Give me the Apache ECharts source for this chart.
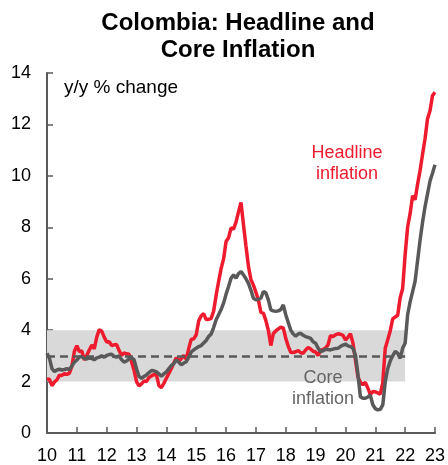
<!DOCTYPE html>
<html>
<head>
<meta charset="utf-8">
<script src="https://cdn.jsdelivr.net/npm/echarts@6/dist/echarts.min.js"></script>
<style>
    html, body { margin: 0; padding: 0; background: #fff; }
    #chart { width: 448px; height: 465px; }
</style>
</head>
<body>
<div id="chart"></div>
<script>
(function () {

    'use strict';

    // year labels on the x axis (2010 .. 2023)
    var years = ['10', '11', '12', '13', '14', '15', '16', '17', '18', '19', '20', '21', '22', '23'];

    // headline CPI, y/y %, monthly Jan 2010 .. Jan 2023
    var headline = [
        2.10, 2.09, 1.84, 1.98, 2.07, 2.25, 2.24, 2.31, 2.28, 2.33, 2.59, 3.17,
        3.40, 3.17, 3.19, 2.84, 3.02, 3.23, 3.42, 3.27, 3.73, 4.02, 3.96, 3.73,
        3.54, 3.55, 3.40, 3.43, 3.44, 3.20, 3.03, 3.11, 3.08, 3.06, 2.77, 2.44,
        2.00, 1.83, 1.91, 2.02, 2.00, 2.16, 2.22, 2.27, 2.27, 1.84, 1.76, 1.94,
        2.13, 2.32, 2.51, 2.72, 2.93, 2.79, 2.89, 3.02, 2.86, 3.29, 3.65, 3.66,
        3.82, 4.36, 4.56, 4.64, 4.41, 4.42, 4.46, 4.74, 5.35, 5.89, 6.39, 6.77,
        7.45, 7.59, 7.98, 7.93, 8.20, 8.60, 8.97, 8.10, 7.27, 6.48, 5.96, 5.75,
        5.47, 5.18, 4.69, 4.66, 4.37, 3.99, 3.40, 3.87, 3.97, 4.05, 4.12, 4.09,
        3.68, 3.37, 3.14, 3.13, 3.16, 3.20, 3.12, 3.10, 3.23, 3.33, 3.27, 3.18,
        3.15, 3.01, 3.21, 3.25, 3.31, 3.43, 3.79, 3.75, 3.82, 3.86, 3.84, 3.80,
        3.62, 3.72, 3.86, 3.51, 2.85, 2.19, 1.97, 1.88, 1.97, 1.75, 1.49, 1.61,
        1.60, 1.56, 1.51, 1.95, 3.30, 3.63, 3.97, 4.44, 4.51, 4.58, 5.26, 5.62,
        6.94, 8.01, 8.53, 9.23, 9.07, 9.67, 10.21, 10.84, 11.44, 12.22, 12.53, 13.12,
        13.25
    ];

    // core CPI, y/y %, monthly Jan 2010 .. Jan 2023
    var core = [
        3.10, 2.90, 2.50, 2.39, 2.45, 2.48, 2.45, 2.47, 2.50, 2.47, 2.60, 2.75,
        2.84, 2.95, 2.97, 2.90, 2.88, 2.92, 2.90, 2.85, 2.92, 2.95, 3.00, 2.95,
        3.02, 3.05, 3.06, 2.98, 2.95, 3.00, 2.85, 2.76, 2.80, 2.88, 2.92, 2.85,
        2.50, 2.20, 2.13, 2.20, 2.26, 2.35, 2.43, 2.42, 2.38, 2.30, 2.21, 2.30,
        2.38, 2.50, 2.62, 2.70, 2.84, 2.75, 2.65, 2.72, 2.77, 2.95, 3.15, 3.23,
        3.30, 3.36, 3.40, 3.50, 3.60, 3.75, 3.85, 4.10, 4.40, 4.60, 4.80, 5.05,
        5.40, 5.70, 6.02, 6.15, 6.02, 6.20, 6.28, 6.15, 6.00, 5.82, 5.55, 5.24,
        5.18, 5.20, 5.24, 5.50, 5.45, 5.18, 4.79, 4.75, 4.73, 4.75, 4.80, 4.98,
        4.60, 4.30, 4.00, 3.85, 3.77, 3.85, 3.88, 3.80, 3.75, 3.72, 3.68, 3.55,
        3.49, 3.30, 3.17, 3.20, 3.26, 3.25, 3.23, 3.26, 3.29, 3.30, 3.36, 3.42,
        3.46, 3.39, 3.36, 3.30, 3.04, 2.30, 1.41, 1.35, 1.35, 1.40, 1.47, 1.10,
        0.95, 0.90, 0.92, 1.09, 2.00, 2.50, 2.80, 3.00, 3.17, 3.10, 2.90, 3.30,
        3.49, 4.60, 5.10, 5.50, 5.90, 6.70, 7.50, 8.20, 8.80, 9.30, 9.80, 10.10,
        10.43
    ];

    // inflation target (3% +/- 1pp), shown until 2022
    var targetMid = 3;
    var targetBand = [2, 4];
    var targetEnd = '2022-01';

    var months = [];
    for (var i = 0; i < headline.length; i++) {
        var y = 2010 + Math.floor(i / 12);
        var m = (i % 12) + 1;
        months.push(y + '-' + (m < 10 ? '0' + m : m));
    }

    var RED = '#EE1B2E';
    var GREY = '#595959';
    var FONT = 'Liberation Sans, Arial, sans-serif';

    var chart = echarts.init(document.getElementById('chart'));

    var option = {
        animation: false,
        backgroundColor: '#fff',
        title: {
            text: 'Colombia: Headline and\nCore Inflation',
            left: 233,
            top: 5,
            textAlign: 'center',
            textStyle: {
                fontFamily: FONT,
                fontSize: 24,
                fontWeight: 'bold',
                color: '#000',
                lineHeight: 27
            }
        },
        grid: {
            left: 47,
            right: 11,
            top: 73,
            bottom: 32
        },
        xAxis: {
            type: 'category',
            data: months,
            boundaryGap: false,
            axisLine: { lineStyle: { color: GREY, width: 2 } },
            axisTick: {
                inside: true,
                length: 6,
                interval: function (idx) { return idx % 12 === 0; },
                lineStyle: { color: GREY, width: 1.5 }
            },
            axisLabel: {
                interval: function (idx) { return idx % 12 === 0; },
                formatter: function (v) { return years[parseInt(v.slice(0, 4), 10) - 2010]; },
                fontFamily: FONT,
                fontSize: 18,
                color: '#000',
                margin: 14
            },
            splitLine: { show: false }
        },
        yAxis: {
            type: 'value',
            min: 0,
            max: 14,
            interval: 2,
            axisLine: { show: true, lineStyle: { color: GREY, width: 2 } },
            axisTick: { show: true, inside: true, length: 6, lineStyle: { color: GREY, width: 1.5 } },
            axisLabel: {
                fontFamily: FONT,
                fontSize: 18,
                color: '#000',
                margin: 16
            },
            splitLine: { show: false }
        },
        graphic: [
            {
                type: 'text', left: 64, top: 78, z: 100,
                style: { text: 'y/y % change', fontFamily: FONT, fontSize: 19, fill: '#000' }
            },
            {
                type: 'text', x: 347, y: 143, z: 100,
                style: {
                    text: 'Headline\ninflation', fontFamily: FONT, fontSize: 18, lineHeight: 21,
                    fill: RED, align: 'center'
                }
            },
            {
                type: 'text', x: 323, y: 368, z: 100,
                style: {
                    text: 'Core\ninflation', fontFamily: FONT, fontSize: 18, lineHeight: 21,
                    fill: '#666', align: 'center'
                }
            }
        ],
        series: [
            {
                name: 'Target',
                type: 'line',
                data: [],
                z: 1,
                markArea: {
                    silent: true,
                    itemStyle: { color: '#D9D9D9' },
                    data: [[
                        { xAxis: months[0], yAxis: targetBand[0] },
                        { xAxis: targetEnd, yAxis: targetBand[1] }
                    ]]
                },
                markLine: {
                    silent: true,
                    symbol: 'none',
                    label: { show: false },
                    lineStyle: { color: GREY, width: 2.5, type: [8, 5] },
                    data: [[
                        { coord: [months[0], targetMid] },
                        { coord: [targetEnd, targetMid] }
                    ]]
                }
            },
            {
                name: 'Core inflation',
                type: 'line',
                data: core,
                z: 3,
                showSymbol: false,
                lineStyle: { color: GREY, width: 3.5 }
            },
            {
                name: 'Headline inflation',
                type: 'line',
                data: headline,
                z: 2,
                showSymbol: false,
                lineStyle: { color: RED, width: 3.5 }
            }
        ]
    };

    chart.setOption(option);
})();
</script>
</body>
</html>
